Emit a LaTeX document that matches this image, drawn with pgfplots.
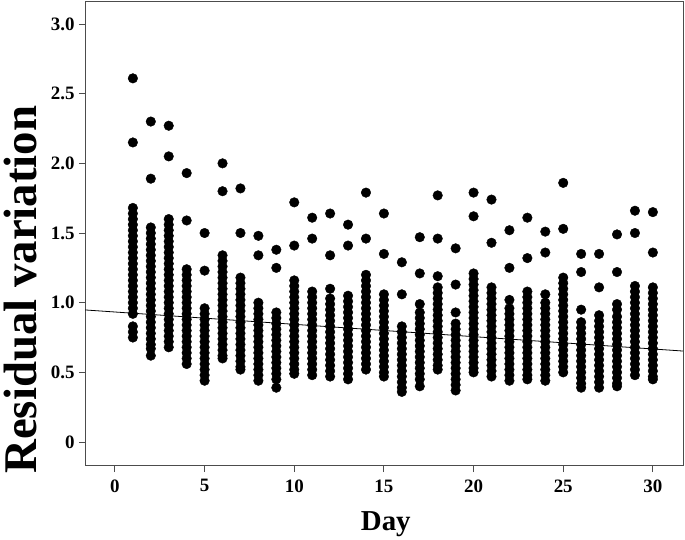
\documentclass[border=0pt]{standalone}
\usepackage{fontspec}
\setmainfont{Liberation Serif}
\usepackage{pgfplots}
\pgfplotsset{compat=1.18}
\begin{document}
\begin{tikzpicture}
\path[use as bounding box] (0,0) rectangle (685bp,540bp);
\begin{axis}[
  at={(85bp,74bp)}, anchor=south west,
  scale only axis, width=598bp, height=464bp,
  xmin=-1.67, xmax=31.68, ymin=-0.172, ymax=3.158,
  xtick={0,5,10,15,20,25,30},
  ytick={0,0.5,1,1.5,2,2.5,3},
  yticklabels={0,0.5,1.0,1.5,2.0,2.5,3.0},
  tick pos=left, tick align=outside,
  major tick length=6bp,
  every tick/.style={black!70, line width=1bp},
  axis line style={black!70, line width=1bp},
  /pgf/number format/assume math mode=true,
  ticklabel style={font=\bfseries\fontsize{19}{19}\selectfont},
  xticklabel style={yshift=-4bp},
  yticklabel style={xshift=-1bp},
  xlabel={Day}, ylabel={Residual variation},
  xlabel style={font=\bfseries\fontsize{29}{29}\selectfont, at={(axis description cs:0.503,-0.125)}, anchor=center, inner sep=0pt},
  ylabel style={font=\bfseries\fontsize{47}{47}\selectfont, at={(axis description cs:-0.107,0.38)}, anchor=center, inner sep=0pt},
  clip=true,
]
\addplot[only marks, mark=*, mark size=4.8bp, black, mark options={fill=black, draw=black}] coordinates {
(1,2.61)(1,2.15)(1,1.68)(1,1.64)(1,1.60)(1,1.56)(1,1.52)(1,1.48)(1,1.44)(1,1.40)(1,1.36)(1,1.32)(1,1.28)(1,1.24)(1,1.20)(1,1.16)(1,1.12)(1,1.08)(1,1.04)(1,1.00)(1,0.96)(1,0.92)(1,0.83)(1,0.79)(1,0.75)
(2,2.30)(2,1.89)(2,1.54)(2,1.50)(2,1.46)(2,1.42)(2,1.38)(2,1.34)(2,1.30)(2,1.26)(2,1.22)(2,1.18)(2,1.14)(2,1.10)(2,1.06)(2,1.02)(2,0.98)(2,0.94)(2,0.90)(2,0.86)(2,0.82)(2,0.78)(2,0.74)(2,0.70)(2,0.67)(2,0.62)
(3,2.27)(3,2.05)(3,1.60)(3,1.56)(3,1.52)(3,1.48)(3,1.44)(3,1.40)(3,1.36)(3,1.32)(3,1.28)(3,1.24)(3,1.20)(3,1.16)(3,1.12)(3,1.08)(3,1.04)(3,1.00)(3,0.96)(3,0.92)(3,0.88)(3,0.84)(3,0.80)(3,0.76)(3,0.72)(3,0.68)
(4,1.93)(4,1.59)(4,1.24)(4,1.20)(4,1.16)(4,1.12)(4,1.08)(4,1.04)(4,1.00)(4,0.96)(4,0.92)(4,0.88)(4,0.84)(4,0.80)(4,0.76)(4,0.72)(4,0.68)(4,0.64)(4,0.60)(4,0.56)
(5,1.50)(5,1.23)(5,0.96)(5,0.92)(5,0.88)(5,0.84)(5,0.80)(5,0.76)(5,0.72)(5,0.68)(5,0.64)(5,0.60)(5,0.56)(5,0.52)(5,0.48)(5,0.44)
(6,2.00)(6,1.80)(6,1.34)(6,1.30)(6,1.26)(6,1.22)(6,1.18)(6,1.14)(6,1.10)(6,1.06)(6,1.02)(6,0.98)(6,0.94)(6,0.90)(6,0.86)(6,0.82)(6,0.78)(6,0.74)(6,0.70)(6,0.66)(6,0.62)(6,0.60)
(7,1.82)(7,1.50)(7,1.18)(7,1.14)(7,1.10)(7,1.06)(7,1.02)(7,0.98)(7,0.94)(7,0.90)(7,0.86)(7,0.82)(7,0.78)(7,0.74)(7,0.70)(7,0.66)(7,0.62)(7,0.58)(7,0.54)(7,0.52)
(8,1.48)(8,1.34)(8,1.00)(8,0.96)(8,0.92)(8,0.88)(8,0.84)(8,0.80)(8,0.76)(8,0.72)(8,0.68)(8,0.64)(8,0.60)(8,0.56)(8,0.52)(8,0.48)(8,0.44)
(9,1.38)(9,1.25)(9,0.93)(9,0.89)(9,0.85)(9,0.81)(9,0.77)(9,0.73)(9,0.69)(9,0.65)(9,0.61)(9,0.57)(9,0.53)(9,0.49)(9,0.45)(9,0.39)
(10,1.72)(10,1.41)(10,1.16)(10,1.12)(10,1.08)(10,1.04)(10,1.00)(10,0.96)(10,0.92)(10,0.88)(10,0.84)(10,0.80)(10,0.76)(10,0.72)(10,0.68)(10,0.64)(10,0.60)(10,0.56)(10,0.52)(10,0.49)
(11,1.61)(11,1.46)(11,1.08)(11,1.04)(11,1.00)(11,0.96)(11,0.92)(11,0.88)(11,0.84)(11,0.80)(11,0.76)(11,0.72)(11,0.68)(11,0.64)(11,0.60)(11,0.56)(11,0.52)(11,0.48)
(12,1.64)(12,1.34)(12,1.10)(12,1.03)(12,0.99)(12,0.95)(12,0.91)(12,0.87)(12,0.83)(12,0.79)(12,0.75)(12,0.71)(12,0.67)(12,0.63)(12,0.59)(12,0.55)(12,0.51)(12,0.47)
(13,1.56)(13,1.41)(13,1.05)(13,1.01)(13,0.97)(13,0.93)(13,0.89)(13,0.85)(13,0.81)(13,0.77)(13,0.73)(13,0.69)(13,0.65)(13,0.61)(13,0.57)(13,0.53)(13,0.49)(13,0.45)
(14,1.79)(14,1.46)(14,1.20)(14,1.16)(14,1.12)(14,1.08)(14,1.04)(14,1.00)(14,0.96)(14,0.92)(14,0.88)(14,0.84)(14,0.80)(14,0.76)(14,0.72)(14,0.68)(14,0.64)(14,0.60)(14,0.56)(14,0.52)
(15,1.64)(15,1.35)(15,1.06)(15,1.02)(15,0.98)(15,0.94)(15,0.90)(15,0.86)(15,0.82)(15,0.78)(15,0.74)(15,0.70)(15,0.66)(15,0.62)(15,0.58)(15,0.54)(15,0.50)(15,0.47)
(16,1.29)(16,1.06)(16,0.83)(16,0.79)(16,0.75)(16,0.71)(16,0.67)(16,0.63)(16,0.59)(16,0.55)(16,0.51)(16,0.47)(16,0.43)(16,0.39)(16,0.36)
(17,1.47)(17,1.21)(17,0.99)(17,0.93)(17,0.89)(17,0.85)(17,0.81)(17,0.77)(17,0.73)(17,0.69)(17,0.65)(17,0.61)(17,0.57)(17,0.53)(17,0.49)(17,0.45)(17,0.40)
(18,1.77)(18,1.46)(18,1.19)(18,1.11)(18,1.07)(18,1.03)(18,0.99)(18,0.95)(18,0.91)(18,0.87)(18,0.83)(18,0.79)(18,0.75)(18,0.71)(18,0.67)(18,0.63)(18,0.59)(18,0.55)(18,0.52)
(19,1.39)(19,1.13)(19,0.93)(19,0.85)(19,0.81)(19,0.77)(19,0.73)(19,0.69)(19,0.65)(19,0.61)(19,0.57)(19,0.53)(19,0.49)(19,0.45)(19,0.41)(19,0.37)
(20,1.79)(20,1.62)(20,1.21)(20,1.17)(20,1.13)(20,1.09)(20,1.05)(20,1.01)(20,0.97)(20,0.93)(20,0.89)(20,0.85)(20,0.81)(20,0.77)(20,0.73)(20,0.69)(20,0.65)(20,0.61)(20,0.57)(20,0.53)(20,0.50)
(21,1.74)(21,1.43)(21,1.11)(21,1.07)(21,1.03)(21,0.99)(21,0.95)(21,0.91)(21,0.87)(21,0.83)(21,0.79)(21,0.75)(21,0.71)(21,0.67)(21,0.63)(21,0.59)(21,0.55)(21,0.51)(21,0.47)
(22,1.52)(22,1.25)(22,1.02)(22,0.96)(22,0.92)(22,0.88)(22,0.84)(22,0.80)(22,0.76)(22,0.72)(22,0.68)(22,0.64)(22,0.60)(22,0.56)(22,0.52)(22,0.48)(22,0.44)
(23,1.61)(23,1.32)(23,1.08)(23,1.04)(23,1.00)(23,0.96)(23,0.92)(23,0.88)(23,0.84)(23,0.80)(23,0.76)(23,0.72)(23,0.68)(23,0.64)(23,0.60)(23,0.56)(23,0.52)(23,0.48)(23,0.45)
(24,1.51)(24,1.36)(24,1.06)(24,1.00)(24,0.96)(24,0.92)(24,0.88)(24,0.84)(24,0.80)(24,0.76)(24,0.72)(24,0.68)(24,0.64)(24,0.60)(24,0.56)(24,0.52)(24,0.48)(24,0.44)
(25,1.86)(25,1.53)(25,1.18)(25,1.14)(25,1.10)(25,1.06)(25,1.02)(25,0.98)(25,0.94)(25,0.90)(25,0.86)(25,0.82)(25,0.78)(25,0.74)(25,0.70)(25,0.66)(25,0.62)(25,0.58)(25,0.54)(25,0.50)
(26,1.35)(26,1.22)(26,0.95)(26,0.86)(26,0.82)(26,0.78)(26,0.74)(26,0.70)(26,0.66)(26,0.62)(26,0.58)(26,0.54)(26,0.50)(26,0.46)(26,0.42)(26,0.39)
(27,1.35)(27,1.11)(27,0.91)(27,0.87)(27,0.83)(27,0.79)(27,0.75)(27,0.71)(27,0.67)(27,0.63)(27,0.59)(27,0.55)(27,0.51)(27,0.47)(27,0.43)(27,0.39)
(28,1.49)(28,1.22)(28,0.99)(28,0.95)(28,0.90)(28,0.86)(28,0.82)(28,0.78)(28,0.74)(28,0.70)(28,0.66)(28,0.62)(28,0.58)(28,0.54)(28,0.50)(28,0.46)(28,0.42)(28,0.40)
(29,1.66)(29,1.50)(29,1.12)(29,1.08)(29,1.04)(29,1.00)(29,0.96)(29,0.92)(29,0.88)(29,0.84)(29,0.80)(29,0.76)(29,0.72)(29,0.68)(29,0.64)(29,0.60)(29,0.56)(29,0.52)(29,0.48)
(30,1.65)(30,1.36)(30,1.11)(30,1.07)(30,1.03)(30,0.99)(30,0.95)(30,0.91)(30,0.87)(30,0.83)(30,0.79)(30,0.75)(30,0.71)(30,0.67)(30,0.63)(30,0.59)(30,0.55)(30,0.51)(30,0.47)(30,0.45)
};
\addplot[black, line width=0.8bp] coordinates {(-1.67,0.948) (31.68,0.653)};
\end{axis}
\end{tikzpicture}
\end{document}
